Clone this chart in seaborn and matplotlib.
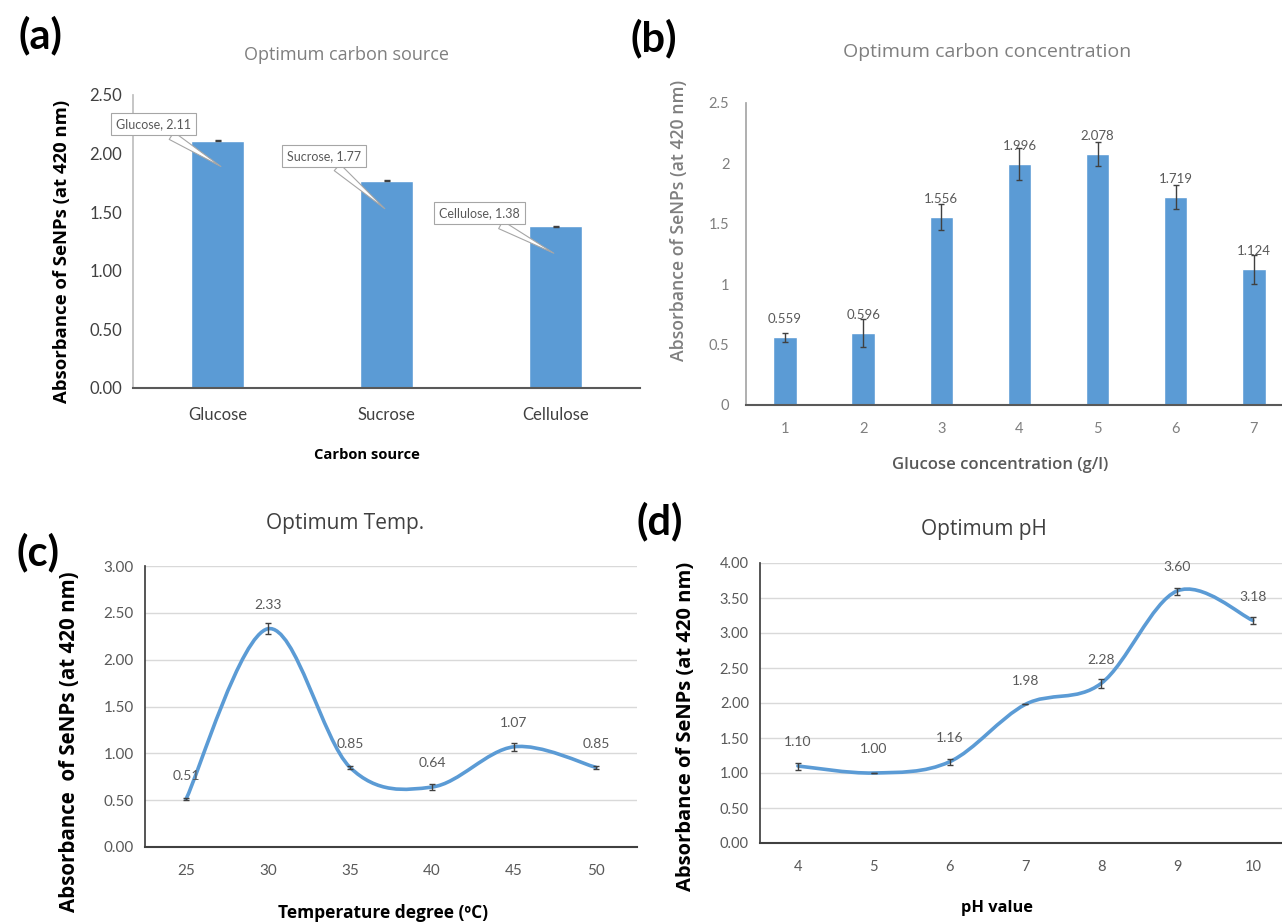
import matplotlib
matplotlib.use("Agg")
import matplotlib.pyplot as plt
from matplotlib.path import Path
from matplotlib.patches import PathPatch
import pandas as pd
import seaborn as sns

### data
carbon_sources = ["Glucose", "Sucrose", "Cellulose"]
carbon_abs = [2.11, 1.77, 1.38]
carbon_err = [0.006, 0.006, 0.006]

glucose_conc = ["1", "2", "3", "4", "5", "6", "7"]
conc_abs = [0.559, 0.596, 1.556, 1.996, 2.078, 1.719, 1.124]
conc_err = [0.04, 0.115, 0.11, 0.135, 0.10, 0.10, 0.12]

temps = ["25", "30", "35", "40", "45", "50"]
temp_abs = [0.51, 2.33, 0.85, 0.64, 1.07, 0.85]
temp_err = [0.01, 0.06, 0.015, 0.03, 0.04, 0.015]

ph_values = ["4", "5", "6", "7", "8", "9", "10"]
ph_abs = [1.10, 1.00, 1.16, 1.98, 2.28, 3.60, 3.18]
ph_err = [0.05, 0.0, 0.04, 0.0, 0.06, 0.05, 0.05]

BLUE = "#5B9BD5"
GRAY = "#595959"
W, H = 1282, 923
LBL = ["Open Sans", "DejaVu Sans"]

sns.set_theme(style="white")
plt.rcParams['font.family'] = ['Lato', 'DejaVu Sans']

fig = plt.figure(figsize=(W / 100, H / 100), dpi=100)


def rect(l, r, t, b):
    return [l / W, 1 - b / H, (r - l) / W, (b - t) / H]


def smooth_line(ax, vals):
    # excel-like smoothed line: cubic bezier through the points
    n = len(vals)
    pts = [(i, v) for i, v in enumerate(vals)]
    verts = [pts[0]]
    codes = [Path.MOVETO]
    for i in range(n - 1):
        p0 = pts[max(i - 1, 0)]
        p1 = pts[i]
        p2 = pts[i + 1]
        p3 = pts[min(i + 2, n - 1)]
        c1 = (p1[0] + (p2[0] - p0[0]) / 6, p1[1] + (p2[1] - p0[1]) / 6)
        c2 = (p2[0] - (p3[0] - p1[0]) / 6, p2[1] - (p3[1] - p1[1]) / 6)
        verts += [c1, c2, p2]
        codes += [Path.CURVE4] * 3
    ax.add_patch(PathPatch(Path(verts, codes), fc="none", ec=BLUE, lw=2.6,
                           capstyle="round", zorder=3))


### (a) carbon source
ax1 = fig.add_axes(rect(133, 640, 95, 388))
df1 = pd.DataFrame({"src": carbon_sources, "val": carbon_abs})
sns.barplot(data=df1, x="src", y="val", color=BLUE, saturation=1, width=0.31,
            errorbar=None, ax=ax1, zorder=2)
ax1.errorbar(range(3), carbon_abs, yerr=carbon_err, fmt="none", ecolor="#404040",
             elinewidth=1, capsize=2.5, zorder=3)
ax1.set_xlim(-0.5, 2.5)
ax1.set_ylim(0, 2.5)
ax1.set_yticks([0, 0.5, 1, 1.5, 2, 2.5])
ax1.set_yticklabels(["%.2f" % t for t in ax1.get_yticks()])
ax1.tick_params(axis="y", length=0, pad=8, labelsize=12, labelcolor="#404040")
ax1.tick_params(axis="x", length=0, pad=14, labelsize=12, labelcolor="#404040")
ax1.set_xlabel("")
ax1.set_ylabel("")
for s in ["top", "right"]:
    ax1.spines[s].set_visible(False)
ax1.spines["left"].set_color("#bfbfbf")
ax1.spines["bottom"].set_color("#595959")
ax1.spines["bottom"].set_linewidth(1.5)

callouts = [((0.02, 1.89), (-0.38, 2.25)),
            ((0.99, 1.53), (0.63, 1.98)),
            ((1.99, 1.15), (1.55, 1.49))]
for (tip, box), name, v in zip(callouts, carbon_sources, carbon_abs):
    ax1.annotate("%s, %.2f" % (name, v), xy=tip, xytext=box, ha="center", va="center",
                 fontsize=9, color=GRAY, zorder=5,
                 bbox=dict(boxstyle="square,pad=0.4", fc="white", ec="#a6a6a6", lw=0.8),
                 arrowprops=dict(arrowstyle="wedge,tail_width=0.7,shrink_factor=0.5",
                                 fc="white", ec="#a6a6a6", lw=0.8, shrinkA=0, shrinkB=0))

### (b) carbon concentration
ax2 = fig.add_axes(rect(746, 1282, 103, 405))
df2 = pd.DataFrame({"conc": glucose_conc, "val": conc_abs})
sns.barplot(data=df2, x="conc", y="val", color=BLUE, saturation=1, width=0.30,
            errorbar=None, ax=ax2, zorder=2)
ax2.errorbar(range(7), conc_abs, yerr=conc_err, fmt="none", ecolor="#404040",
             elinewidth=1, capsize=2.5, zorder=3)
for i, v in enumerate(conc_abs):
    ax2.annotate("%.3f" % v, (i, v), xytext=(0, 13), textcoords="offset points",
                 ha="center", va="center", fontsize=9.5, color=GRAY, zorder=4)
ax2.set_xlim(-0.5, 6.36)
ax2.set_ylim(0, 2.5)
ax2.set_yticks([0, 0.5, 1, 1.5, 2, 2.5])
ax2.set_yticklabels(["0", "0.5", "1", "1.5", "2", "2.5"])
ax2.tick_params(axis="y", length=0, pad=12, labelsize=10.5, labelcolor="#7f7f7f")
ax2.tick_params(axis="x", length=0, pad=12, labelsize=10.5, labelcolor="#7f7f7f")
ax2.set_xlabel("")
ax2.set_ylabel("")
for s in ["top", "right"]:
    ax2.spines[s].set_visible(False)
ax2.spines["left"].set_color("#a6a6a6")
ax2.spines["bottom"].set_color("#595959")
ax2.spines["bottom"].set_linewidth(1.5)

### (c) temperature and (d) pH
ax3 = fig.add_axes(rect(145, 637, 566, 847))
ax4 = fig.add_axes(rect(760, 1282, 563, 843))
for ax, labs, vals, errs, top, xmax, fs in [(ax3, temps, temp_abs, temp_err, 3.0, 5.5, 11),
                                            (ax4, ph_values, ph_abs, ph_err, 4.0, 6.385, 10.5)]:
    ax.yaxis.grid(True, color="#d9d9d9", lw=1)
    ax.set_axisbelow(True)
    smooth_line(ax, vals)
    ax.errorbar(range(len(vals)), vals, yerr=errs, fmt="none", ecolor="#404040",
                elinewidth=1, capsize=2.5, zorder=4)
    for i, v in enumerate(vals):
        ax.annotate("%.2f" % v, (i, v), xytext=(0, 17), textcoords="offset points",
                    ha="center", va="center", fontsize=10, color=GRAY, zorder=5)
    ax.set_xlim(-0.5, xmax)
    ax.set_ylim(0, top)
    ax.set_xticks(range(len(labs)))
    ax.set_xticklabels(labs)
    ticks = [k * 0.5 for k in range(int(top * 2) + 1)]
    ax.set_yticks(ticks)
    ax.set_yticklabels(["%.2f" % t for t in ticks])
    ax.tick_params(axis="y", length=0, pad=8, labelsize=fs, labelcolor=GRAY)
    ax.tick_params(axis="x", length=0, pad=12, labelsize=fs, labelcolor=GRAY)
    for s in ["top", "right"]:
        ax.spines[s].set_visible(False)
    ax.spines["left"].set_color("#404040")
    ax.spines["bottom"].set_color("#404040")
    ax.spines["bottom"].set_linewidth(1.5)

### titles, axis labels, panel letters
ylab = "Absorbance of SeNPs (at 420 nm)"
fig.text(346 / W, 1 - 55 / H, "Optimum carbon source", ha="center", va="center",
         fontsize=13, color="#7f7f7f", family=LBL)
fig.text(987 / W, 1 - 52 / H, "Optimum carbon concentration", ha="center", va="center",
         fontsize=14, color="#7f7f7f", family=LBL)
fig.text(345 / W, 1 - 523 / H, "Optimum Temp.", ha="center", va="center",
         fontsize=15, color="#404040", family=LBL)
fig.text(984 / W, 1 - 529 / H, "Optimum pH", ha="center", va="center",
         fontsize=15, color="#404040", family=LBL)

fig.text(62 / W, 1 - 251 / H, ylab, rotation=90, ha="center", va="center",
         fontsize=13.3, fontweight="bold", color="black", family=LBL)
fig.text(679 / W, 1 - 220 / H, ylab, rotation=90, ha="center", va="center",
         fontsize=12.7, fontweight="semibold", color="#7f7f7f", family=LBL)
fig.text(70 / W, 1 - 742 / H, ylab.replace("of", " of"), rotation=90, ha="center",
         va="center", fontsize=14.8, fontweight="bold", color="black", family=LBL)
fig.text(686 / W, 1 - 726 / H, ylab, rotation=90, ha="center", va="center",
         fontsize=14.5, fontweight="bold", color="black", family=LBL)

fig.text(367 / W, 1 - 455 / H, "Carbon source", ha="center", va="center",
         fontsize=10.6, fontweight="bold", color="black", family=LBL)
fig.text(1000 / W, 1 - 465 / H, "Glucose concentration (g/l)", ha="center", va="center",
         fontsize=12, fontweight="semibold", color="#595959", family=LBL)
fig.text(383 / W, 1 - 913 / H, "Temperature degree (ºC)", ha="center", va="center",
         fontsize=12.5, fontweight="bold", color="black", family=LBL)
fig.text(997 / W, 1 - 908 / H, "pH value", ha="center", va="center",
         fontsize=11.8, fontweight="bold", color="black", family=LBL)

for x, y, t in [(40, 35, "(a)"), (654, 38, "(b)"), (38, 552, "(c)"), (660, 521, "(d)")]:
    fig.text(x / W, 1 - y / H, t, ha="center", va="center", fontsize=30,
             fontweight="bold", color="black")

fig.savefig("out.png", dpi=100, facecolor="white")
